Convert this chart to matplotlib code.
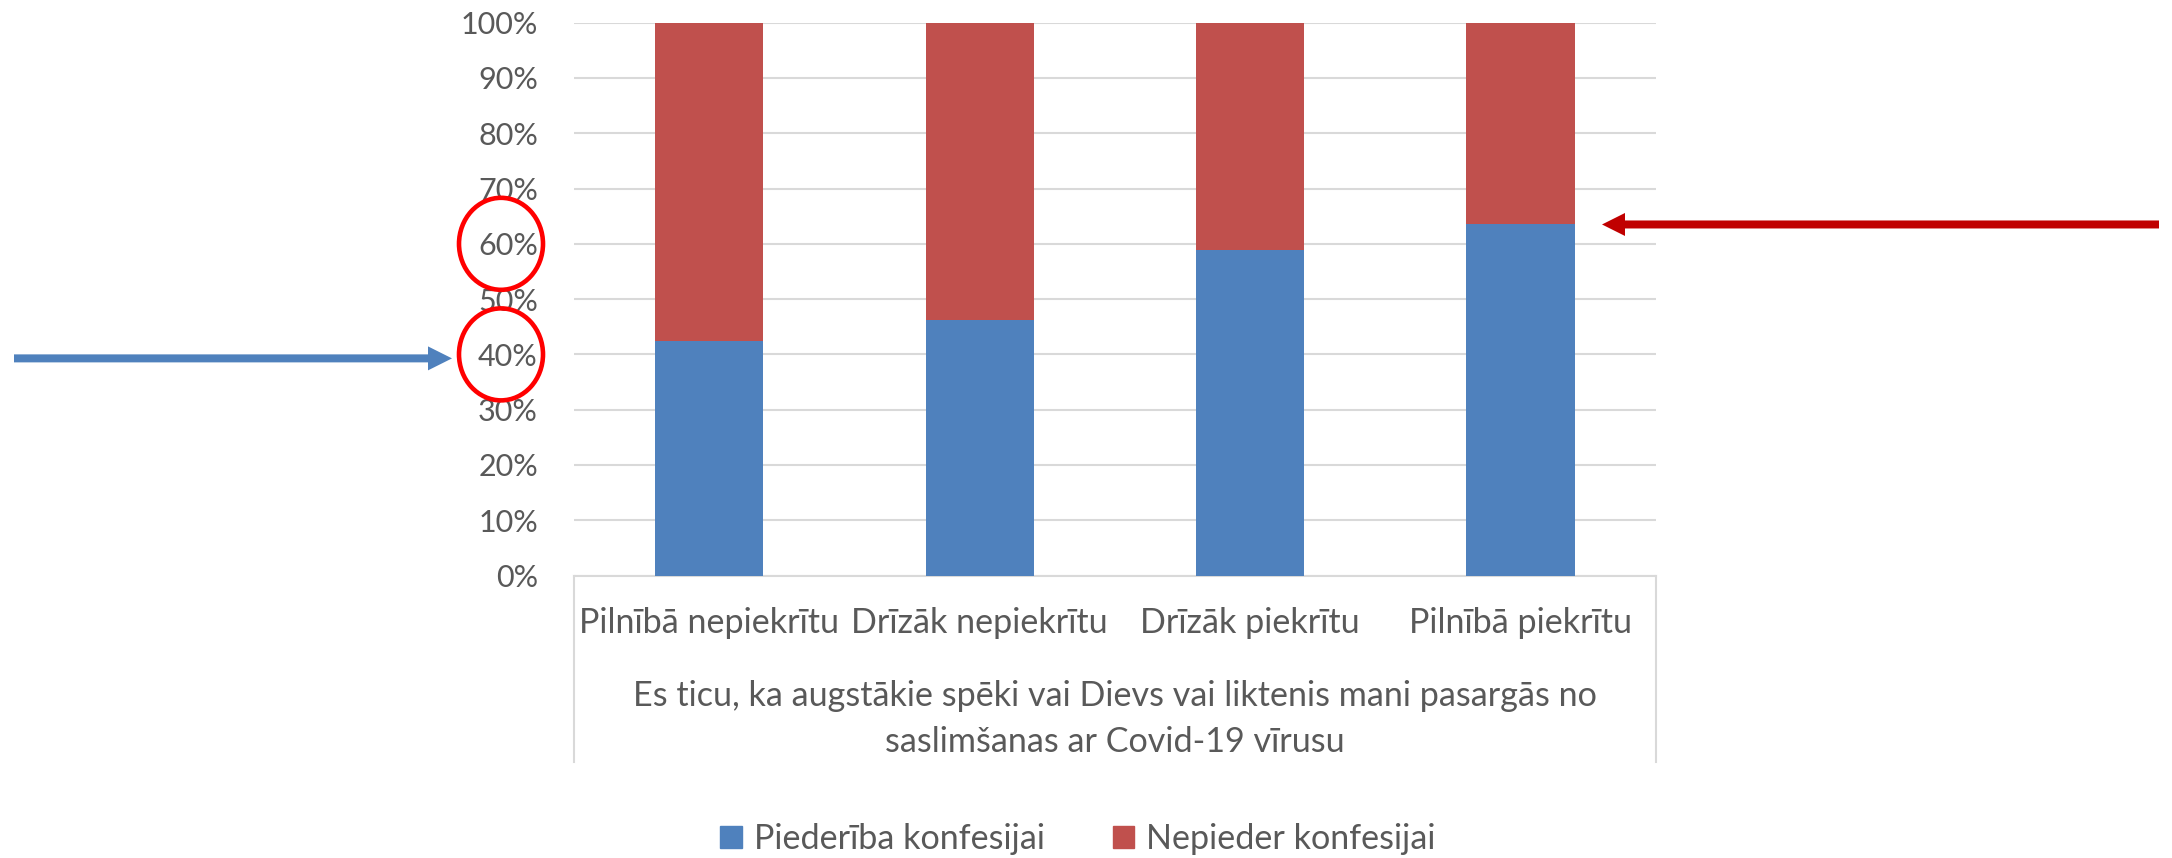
import matplotlib
matplotlib.use("Agg")
import matplotlib.pyplot as plt
from matplotlib.patches import FancyArrow, Ellipse, Patch
from matplotlib.lines import Line2D
import numpy as np

plt.rcParams['font.family'] = ['Lato', 'DejaVu Sans']

categories = ["Pilnībā nepiekrītu", "Drīzāk nepiekrītu", "Drīzāk piekrītu", "Pilnībā piekrītu"]
belongs = [42.5, 46.3, 58.9, 63.5]          # Piederība konfesijai (%)
not_belongs = [57.5, 53.7, 41.1, 36.5]      # Nepieder konfesijai (%)
series_names = ["Piederība konfesijai", "Nepieder konfesijai"]
yticks = [0, 10, 20, 30, 40, 50, 60, 70, 80, 90, 100]
ytick_labels = [f"{v}%" for v in yticks]
axis_title = "Es ticu, ka augstākie spēki vai Dievs vai liktenis mani pasargās no\nsaslimšanas ar Covid-19 vīrusu"

BLUE = "#4F81BD"
RED = "#C0504D"
GRID = "#D9D9D9"
TXT = "#595959"
FS = 22
FS_T = 24.6

W, H = 2172, 858
fig = plt.figure(figsize=(W / 100, H / 100), dpi=100)
left, right = 574 / W, 1655.7 / W
bottom, top = 1 - 575.5 / H, 1 - 22.7 / H
ax = fig.add_axes([left, bottom, right - left, top - bottom])

x = np.arange(len(categories))
ax.bar(x, belongs, width=0.4, color=BLUE, zorder=3, label=series_names[0])
ax.bar(x, not_belongs, width=0.4, bottom=belongs, color=RED, zorder=3, label=series_names[1])

ax.set_xlim(-0.5, len(categories) - 0.5)
ax.set_ylim(0, 100)
ax.set_yticks(yticks)
ax.set_yticklabels(ytick_labels)
ax.yaxis.grid(True, color=GRID, linewidth=1.5, zorder=0)
ax.set_axisbelow(True)
ax.tick_params(axis='y', length=0, pad=26, labelsize=FS, labelcolor=TXT)
ax.set_xticks([])
for s in ['top', 'right', 'left']:
    ax.spines[s].set_visible(False)
ax.spines['bottom'].set_color(GRID)
ax.spines['bottom'].set_linewidth(1.5)

# category labels
for i, c in enumerate(categories):
    ax.text(i, -0.086, c, transform=ax.get_xaxis_transform(), ha='center', va='center',
            fontsize=FS_T, color=TXT)
# axis title (multi-level category)
ax.text(0.5, -0.26, axis_title, transform=ax.transAxes, ha='center', va='center',
        fontsize=FS_T, color=TXT, linespacing=1.55)
# category box side lines
for xx in (0, 1):
    ax.add_line(Line2D([xx, xx], [0, -0.338], transform=ax.transAxes, color=GRID,
                       linewidth=1.5, clip_on=False))

# legend
handles = [Patch(facecolor=BLUE, edgecolor=BLUE), Patch(facecolor=RED, edgecolor=RED)]
leg = fig.legend(handles, series_names, loc='center', bbox_to_anchor=(1078 / W, 1 - 839 / H),
                 ncol=2, frameon=False, fontsize=FS_T, handlelength=0.62, handleheight=0.62,
                 handletextpad=0.35, columnspacing=2.0)
for t in leg.get_texts():
    t.set_color(TXT)

# overlay for annotations (pixel coordinates)
fig.canvas.draw()
ov = fig.add_axes([0, 0, 1, 1], zorder=10)
ov.set_xlim(0, W)
ov.set_ylim(0, H)
ov.axis('off')
ov.patch.set_alpha(0)

def px(xd, yd):
    return ax.transData.transform((xd, yd))

y40 = px(0, 40)[1]
y60 = px(0, 60)[1]
for yy in (y40, y60):
    ov.add_patch(Ellipse((501, yy), 84, 92, fill=False, edgecolor='#FF0000', linewidth=3.3))

# blue arrow pointing at 40%
ov.add_patch(FancyArrow(14, y40 - 4, 438, 0, width=8, head_width=24, head_length=24,
                        length_includes_head=True, color=BLUE, linewidth=0))
# red arrow pointing at the boundary of last bar
yb = px(3, belongs[3])[1]
ov.add_patch(FancyArrow(2159, yb, -557, 0, width=8, head_width=23, head_length=23,
                        length_includes_head=True, color='#C00000', linewidth=0))

fig.savefig("out.png", dpi=100, facecolor='white')
